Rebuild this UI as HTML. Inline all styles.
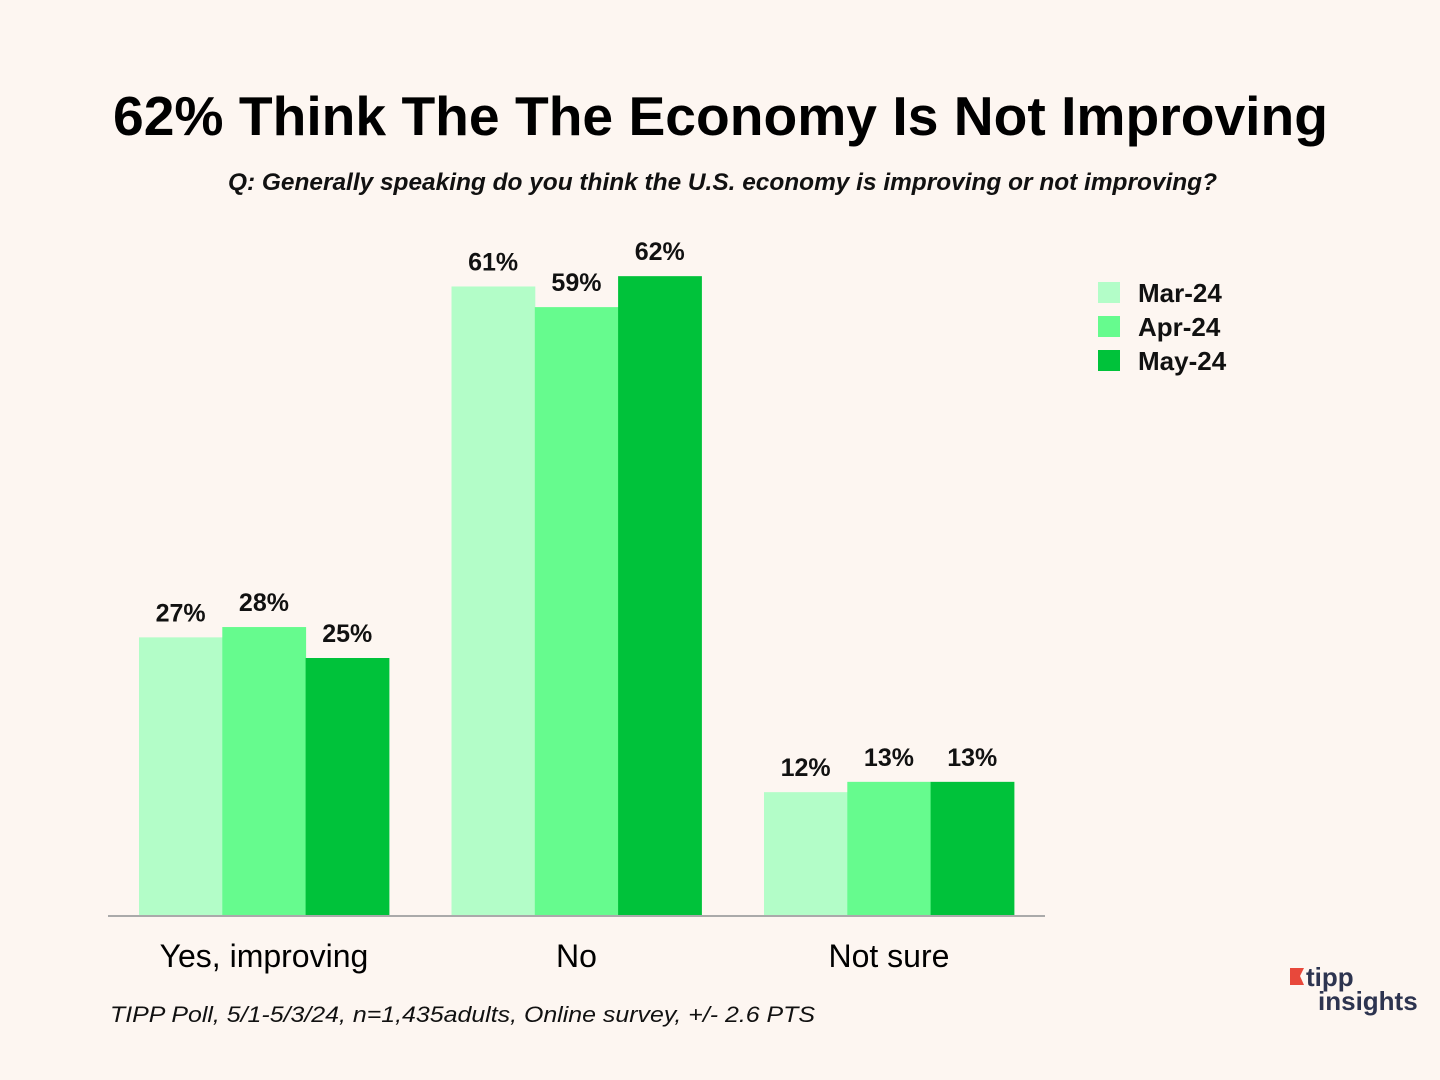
<!DOCTYPE html>
<html><head><meta charset="utf-8"><style>
body{margin:0;background:#fdf6f1;}
svg{display:block;font-family:"Liberation Sans",sans-serif;}
</style></head><body>
<svg id="c" width="1440" height="1080" viewBox="0 0 1440 1080">
<rect width="1440" height="1080" fill="#fdf6f1"/>
<text x="113" y="135" textLength="1215" lengthAdjust="spacingAndGlyphs" font-size="55" font-weight="bold" fill="#000">62% Think The The Economy Is Not Improving</text>
<text x="228" y="190" textLength="989" lengthAdjust="spacingAndGlyphs" font-size="24" font-style="italic" font-weight="bold" fill="#111">Q: Generally speaking do you think the U.S. economy is improving or not improving?</text>
<g id="bars"></g>
<line x1="108" y1="916" x2="1045" y2="916" stroke="#aaa" stroke-width="2"/>
<g id="legend"></g>
<text x="110" y="1022" textLength="705" lengthAdjust="spacingAndGlyphs" font-size="22" font-style="italic" fill="#111">TIPP Poll, 5/1-5/3/24, n=1,435adults, Online survey, +/- 2.6 PTS</text>
<g>
<polygon points="1290,968 1304,968 1300,976 1304,985 1290,985" fill="#e8483b"/>
<text x="1306" y="986" font-size="26" font-weight="bold" fill="#2d3450">tipp</text>
<text x="1318" y="1010" font-size="26" font-weight="bold" fill="#2d3450">insights</text>
</g>
</svg>
<script>
const categories = ["Yes, improving", "No", "Not sure"];
const seriesNames = ["Mar-24", "Apr-24", "May-24"];
const mar24 = [27, 61, 12];
const apr24 = [28, 59, 13];
const may24 = [25, 62, 13];
const series = [mar24, apr24, may24];
const colors = ["#b3fdc8", "#66fb8e", "#00c23a"];
const NS = "http://www.w3.org/2000/svg";
const baseY = 916, pxPer = 10.32, bw = 83.3, groupStart = 139, groupStep = 312.5;
const yScale = v => baseY - v * pxPer;
const xScale = (ci, si) => groupStart + ci * groupStep + si * bw;
const bars = document.getElementById("bars");
function mk(tag, attrs, parent){const e=document.createElementNS(NS,tag);for(const k in attrs)e.setAttribute(k,attrs[k]);parent.appendChild(e);return e;}
categories.forEach((cat, ci) => {
  series.forEach((vals, si) => {
    const v = vals[ci], x = xScale(ci, si), y = yScale(v);
    const r = mk("rect", {x:x, y:y, width:bw+0.5, height:baseY-y, fill:colors[si]}, bars);
    
    
    const t = mk("text", {x:x+bw/2, y:y-16, "text-anchor":"middle", "font-size":25, "font-weight":"bold", fill:"#111"}, bars);
    t.textContent = v + "%";
    
    
  });
  const lt = mk("text", {x:xScale(ci,1)+bw/2, y:967, "text-anchor":"middle", "font-size":32, fill:"#000"}, bars);
  lt.textContent = cat;
  
  
});
const lg = document.getElementById("legend");
seriesNames.forEach((n, i) => {
  const r = mk("rect", {x:1098, y:282+i*34, width:22, height:21, fill:colors[i]}, lg);
  
  
  const t = mk("text", {x:1138, y:302+i*34, "font-size":26, "font-weight":"bold", fill:"#111"}, lg);
  t.textContent = n;
  
  
});
</script>
</body></html>
